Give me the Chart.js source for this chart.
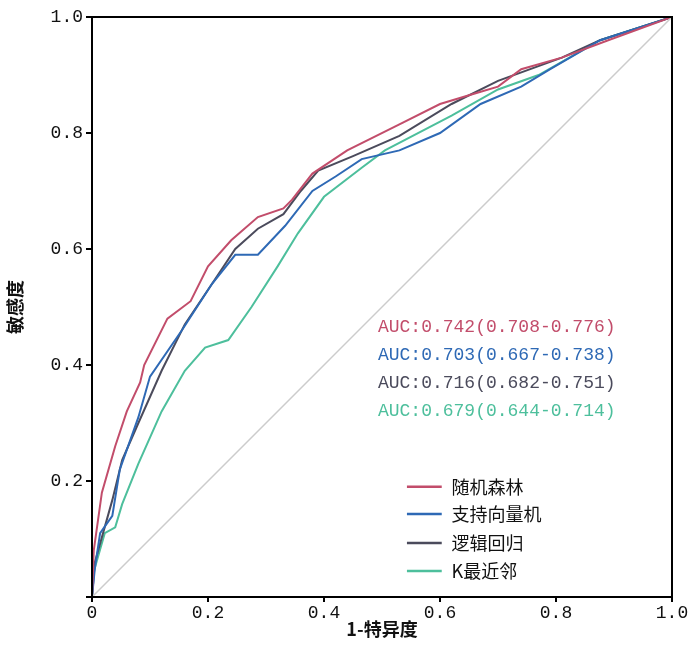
<!DOCTYPE html>
<html><head><meta charset="utf-8">
<script src="https://cdn.jsdelivr.net/npm/chart.js@4"></script>
<style>body{margin:0;background:#fff}#wrap{width:700px;height:666px}</style>
</head><body><div id="wrap"><canvas id="c"></canvas></div>
<script>
// ROC curves: [1-specificity, sensitivity]
const rfX = [0,0.003,0.017,0.04,0.06,0.083,0.09,0.13,0.17,0.2,0.24,0.286,0.33,0.345,0.38,0.44,0.53,0.6,0.66,0.70,0.74,0.81,0.89,1];
const rfY = [0,0.08,0.18,0.26,0.32,0.37,0.40,0.48,0.51,0.57,0.615,0.655,0.67,0.685,0.73,0.77,0.815,0.85,0.868,0.88,0.91,0.93,0.96,1];
const svmX = [0,0.005,0.014,0.035,0.048,0.08,0.10,0.155,0.207,0.247,0.286,0.333,0.38,0.42,0.465,0.53,0.6,0.67,0.74,0.79,0.876,1];
const svmY = [0,0.05,0.11,0.14,0.22,0.31,0.38,0.46,0.54,0.59,0.59,0.64,0.70,0.725,0.755,0.77,0.80,0.85,0.88,0.91,0.96,1];
const lrX = [0,0.005,0.035,0.052,0.08,0.12,0.16,0.207,0.247,0.286,0.33,0.36,0.39,0.45,0.53,0.62,0.70,0.81,0.876,1];
const lrY = [0,0.06,0.167,0.236,0.30,0.39,0.47,0.54,0.60,0.635,0.66,0.70,0.735,0.76,0.795,0.85,0.89,0.93,0.96,1];
const knnX = [0,0.002,0.022,0.04,0.052,0.08,0.12,0.16,0.195,0.235,0.275,0.32,0.355,0.40,0.465,0.505,0.62,0.70,0.77,0.876,1];
const knnY = [0,0.04,0.11,0.12,0.16,0.23,0.32,0.39,0.43,0.443,0.50,0.57,0.627,0.69,0.74,0.77,0.83,0.875,0.90,0.96,1];
const names = ['随机森林','支持向量机','逻辑回归','K最近邻'];
const aucText = ['AUC:0.742(0.708-0.776)','AUC:0.703(0.667-0.738)','AUC:0.716(0.682-0.751)','AUC:0.679(0.644-0.714)'];
const colors = ['#c24d6b','#2e69b5','#4b4b5c','#4dbf9c'];
const ticks = [0,0.2,0.4,0.6,0.8,1.0];

const pts = (xs, ys) => xs.map((x, i) => ({x, y: ys[i]}));
const series = [pts(rfX, rfY), pts(svmX, svmY), pts(lrX, lrY), pts(knnX, knnY)];

const mono = '"Liberation Mono", monospace';
const cjk = '"Noto Sans CJK SC", sans-serif';

const overlay = {
  id: 'overlay',
  afterDraw(chart) {
    const {ctx, chartArea: a, scales: {x, y}} = chart;
    ctx.save();
    ctx.strokeStyle = '#000'; ctx.lineWidth = 2;
    ctx.strokeRect(a.left, a.top, a.right - a.left, a.bottom - a.top);
    ctx.textBaseline = 'middle';
    ctx.font = '18px ' + mono;
    const aucY = [0.465, 0.417, 0.369, 0.321];
    aucText.forEach((t, i) => {
      ctx.fillStyle = colors[i];
      ctx.fillText(t, x.getPixelForValue(0.493), y.getPixelForValue(aucY[i]));
    });
    const legY = [0.19, 0.143, 0.093, 0.045];
    ctx.font = '18px ' + cjk;
    names.forEach((n, i) => {
      const py = y.getPixelForValue(legY[i]);
      ctx.strokeStyle = colors[i]; ctx.lineWidth = 2.5;
      ctx.beginPath();
      ctx.moveTo(x.getPixelForValue(0.543), py);
      ctx.lineTo(x.getPixelForValue(0.603), py);
      ctx.stroke();
      ctx.fillStyle = '#111';
      ctx.fillText(n, x.getPixelForValue(0.62), py);
    });
    ctx.restore();
  }
};

new Chart(document.getElementById('c'), {
  type: 'scatter',
  data: {
    datasets: [
      {data: [{x: 0, y: 0}, {x: 1, y: 1}], borderColor: '#cccccc', borderWidth: 1.5}
    ].concat(series.map((d, i) => ({
      label: names[i], data: d, borderColor: colors[i], borderWidth: 2
    }))).map(ds => Object.assign(ds, {showLine: true, pointRadius: 0, tension: 0}))
  },
  options: {
    responsive: true, maintainAspectRatio: false, animation: false,
    layout: {padding: {top: 17, right: 28, bottom: 22}},
    plugins: {legend: {display: false}, tooltip: {enabled: false}},
    scales: {
      x: {
        min: 0, max: 1,
        afterBuildTicks: s => { s.ticks = ticks.map(v => ({value: v})); },
        afterFit: s => { s.height = 47; },
        grid: {drawOnChartArea: false, color: '#000', tickLength: 5, lineWidth: 2},
        border: {color: '#000', width: 2},
        ticks: {color: '#111', font: {family: mono, size: 18}, maxRotation: 0, padding: 0,
          callback: v => v === 0 ? '0' : v.toFixed(1)},
        title: {display: true, text: '1-特异度', color: '#111', font: {family: cjk, size: 18, weight: 'bold'}, padding: {top: 0}}
      },
      y: {
        min: 0, max: 1,
        afterBuildTicks: s => { s.ticks = ticks.map(v => ({value: v})); },
        afterFit: s => { s.width = 92; },
        grid: {drawOnChartArea: false, color: '#000', tickLength: 6, lineWidth: 2},
        border: {color: '#000', width: 2},
        ticks: {color: '#111', font: {family: mono, size: 18},
          callback: v => v === 0 ? '' : v.toFixed(1)},
        title: {display: true, text: '敏感度', color: '#111', font: {family: cjk, size: 18, weight: 'bold'}}
      }
    }
  },
  plugins: [overlay]
});
</script></body></html>
